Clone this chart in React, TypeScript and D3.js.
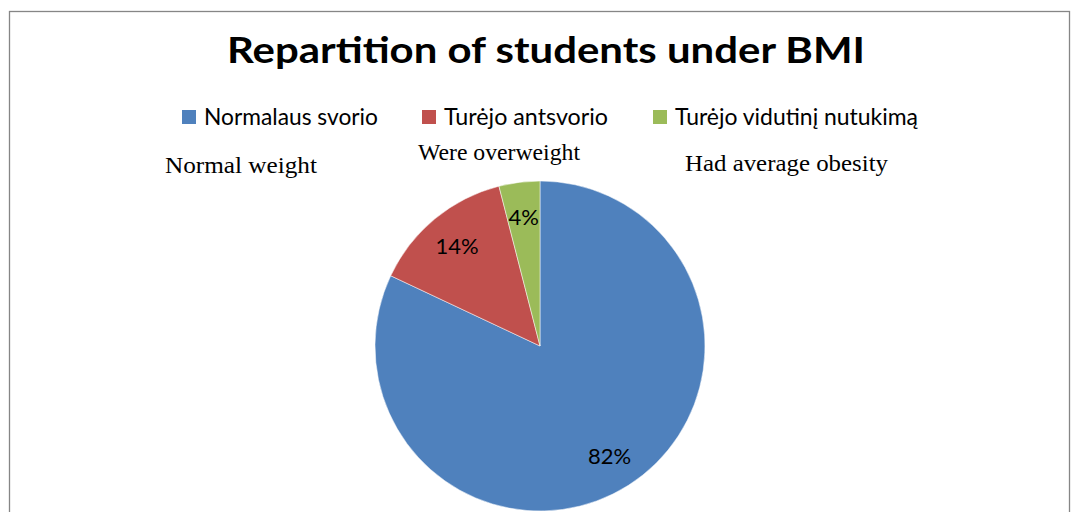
import React from "react";
import * as d3 from "d3";

const categories = ["Normalaus svorio", "Turėjo antsvorio", "Turėjo vidutinį nutukimą"];
const values = [82, 14, 4];
const percentLabels = ["82%", "14%", "4%"];
const colors = ["#4F81BD", "#C0504D", "#9BBB59"];
const annotations = ["Normal weight", "Were overweight", "Had average obesity"];
const title = "Repartition of students under BMI";

const W = 1072;
const H = 512;

export default function App() {
  const cx = 540;
  const cy = 346;
  const R = 165;
  const pie = d3.pie<number>().sort(null).value((d) => d)(values);
  const arc = d3.arc<d3.PieArcDatum<number>>().innerRadius(0).outerRadius(R);
  const labelArc = d3.arc<d3.PieArcDatum<number>>().innerRadius(130).outerRadius(130);

  const legendX = [182, 422, 653];
  const legendW = [174, 164, 243];
  const annX = [165, 418, 685];
  const annY = [173, 160, 171];
  const annW = [152, 162, 203];

  return (
    <svg
      width={W}
      height={H}
      style={{ position: "absolute", left: 0, top: 0, background: "#fff" }}
    >
      <rect x={0} y={0} width={W} height={H} fill="#fff" />
      <rect x={9.5} y={11.5} width={1060} height={600} fill="#fff" stroke="#868686" strokeWidth={1.3} />
      <text
        x={227}
        y={63}
        fontFamily="Lato, 'Open Sans', sans-serif"
        fontWeight="bold"
        fontSize={36}
        textLength={638}
        lengthAdjust="spacingAndGlyphs"
        fill="#000"
      >
        {title}
      </text>
      {categories.map((c, i) => (
        <g key={c}>
          <rect x={legendX[i]} y={110} width={14} height={14} fill={colors[i]} />
          <text
            x={legendX[i] + 22}
            y={125}
            fontFamily="Lato, 'Open Sans', sans-serif"
            fontSize={23}
            textLength={legendW[i]}
            lengthAdjust="spacingAndGlyphs"
            fill="#000"
          >
            {c}
          </text>
        </g>
      ))}
      {annotations.map((a, i) => (
        <text
          key={a}
          x={annX[i]}
          y={annY[i]}
          fontFamily="'Liberation Serif', 'Times New Roman', serif"
          fontSize={24}
          textLength={annW[i]}
          lengthAdjust="spacingAndGlyphs"
          fill="#000"
        >
          {a}
        </text>
      ))}
      <g transform={`translate(${cx},${cy})`}>
        {pie.map((p, i) => (
          <path key={i} d={arc(p) || ""} fill={colors[i]} stroke="#fff" strokeWidth={0.5} />
        ))}
        {pie.map((p, i) => {
          const [lx, ly] = labelArc.centroid(p);
          return (
            <text
              key={"l" + i}
              x={lx}
              y={ly}
              dy="0.36em"
              textAnchor="middle"
              fontFamily="Lato, 'Open Sans', sans-serif"
              fontSize={22}
              fill="#000"
            >
              {percentLabels[i]}
            </text>
          );
        })}
      </g>
    </svg>
  );
}
